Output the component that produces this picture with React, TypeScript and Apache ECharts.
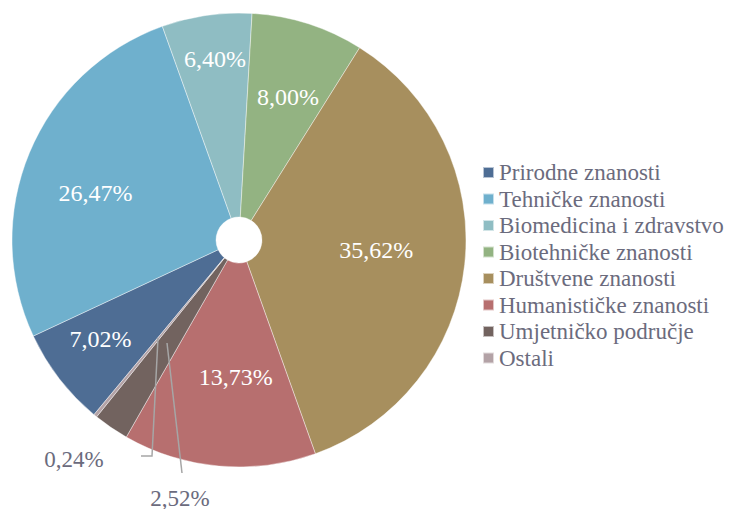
import React, { useEffect, useRef } from "react";
import * as echarts from "echarts";

const categories = [
  "Prirodne znanosti",
  "Tehničke znanosti",
  "Biomedicina i zdravstvo",
  "Biotehničke znanosti",
  "Društvene znanosti",
  "Humanističke znanosti",
  "Umjetničko područje",
  "Ostali",
];
const values = [7.02, 26.47, 6.4, 8.0, 35.62, 13.73, 2.52, 0.24];
const colors = [
  "#4e6d94",
  "#6fb0cd",
  "#8fbdc3",
  "#93b382",
  "#a78f5e",
  "#b76f6f",
  "#72635f",
  "#b3a2a6",
];
const outsideLabels = [6, 7];

const FONT = "serif";
const fmt = (v: number) => v.toFixed(2).replace(".", ",") + "%";

export default function App() {
  const ref = useRef<HTMLDivElement>(null);
  useEffect(() => {
    document.body.style.margin = "0";
    const chart = echarts.init(ref.current!, null, { renderer: "svg" });
    const center = [239, 240];
    const START = 230.3;
    const overlay = (
      radius: [number, number],
      show: number[],
      nudge: Record<number, [number, number]> = {}
    ) => ({
      type: "pie",
      silent: true,
      center,
      radius,
      startAngle: START,
      clockwise: true,
      emphasis: { disabled: true },
      itemStyle: { color: "transparent", borderWidth: 0 },
      labelLine: { show: false },
      tooltip: { show: false },
      data: categories.map((n, i) => ({
        name: n,
        value: values[i],
        label: {
          show: show.includes(i),
          position: "inside",
          color: "#ffffff",
          fontFamily: FONT,
          fontSize: 24,
          offset: nudge[i] || [0, 0],
          formatter: () => fmt(values[i]),
        },
      })),
      z: 5,
    });
    chart.setOption({
      animation: false,
      textStyle: { fontFamily: FONT },
      legend: {
        orient: "vertical",
        left: 477,
        top: 156,
        itemWidth: 11,
        itemHeight: 11,
        itemGap: 3.5,
        icon: "rect",
        data: categories,
        selectedMode: false,
        textStyle: { fontFamily: FONT, fontSize: 23, color: "#6b6b7d" },
      },
      series: [
        {
          type: "pie",
          name: "main",
          center,
          radius: [23, 227],
          startAngle: START,
          clockwise: true,
          emphasis: { disabled: true },
          itemStyle: { borderColor: "rgba(255,255,255,0.6)", borderWidth: 0.7 },
          label: { show: false },
          labelLine: { show: false },
          data: categories.map((n, i) => ({
            name: n,
            value: values[i],
            itemStyle: { color: colors[i] },
          })),
        },
        overlay([43, 227], [4, 5], { 4: [0, -5], 5: [9, 0] }),
        overlay([69, 227], [1, 3], { 1: [-4, 11], 3: [3, 1] }),
        overlay([107, 227], [0], { 0: [-4, -5] }),
        overlay([131, 227], [2], { 2: [2, -1] }),
        {
          type: "pie",
          silent: true,
          center,
          radius: [23, 227],
          startAngle: START,
          clockwise: true,
          emphasis: { disabled: true },
          itemStyle: { color: "transparent", borderWidth: 0 },
          z: 6,
          labelLine: {
            show: true,
            lineStyle: { color: "#a6a6a6", width: 1.5 },
          },
          labelLayout: (p: any) => {
            if (p.dataIndex === 7)
              return {
                x: 74,
                y: 459,
                align: "center",
                verticalAlign: "middle",
                labelLinePoints: [
                  [158, 338],
                  [152, 456],
                  [141, 456],
                ],
              };
            if (p.dataIndex === 6)
              return {
                x: 180,
                y: 498,
                align: "center",
                verticalAlign: "middle",
                labelLinePoints: [
                  [167, 343],
                  [182, 473],
                  [182, 473],
                ],
              };
            return {};
          },
          data: categories.map((n, i) => ({
            name: n,
            value: values[i],
            label: {
              show: outsideLabels.includes(i),
              position: "outside",
              overflow: "none",
              width: 120,
              color: "#6b6b7d",
              fontFamily: FONT,
              fontSize: 23,
              formatter: () => fmt(values[i]),
            },
            labelLine: { show: outsideLabels.includes(i) },
          })),
        },
      ],
    });
    return () => chart.dispose();
  }, []);
  return <div ref={ref} style={{ width: 734, height: 509 }} />;
}
